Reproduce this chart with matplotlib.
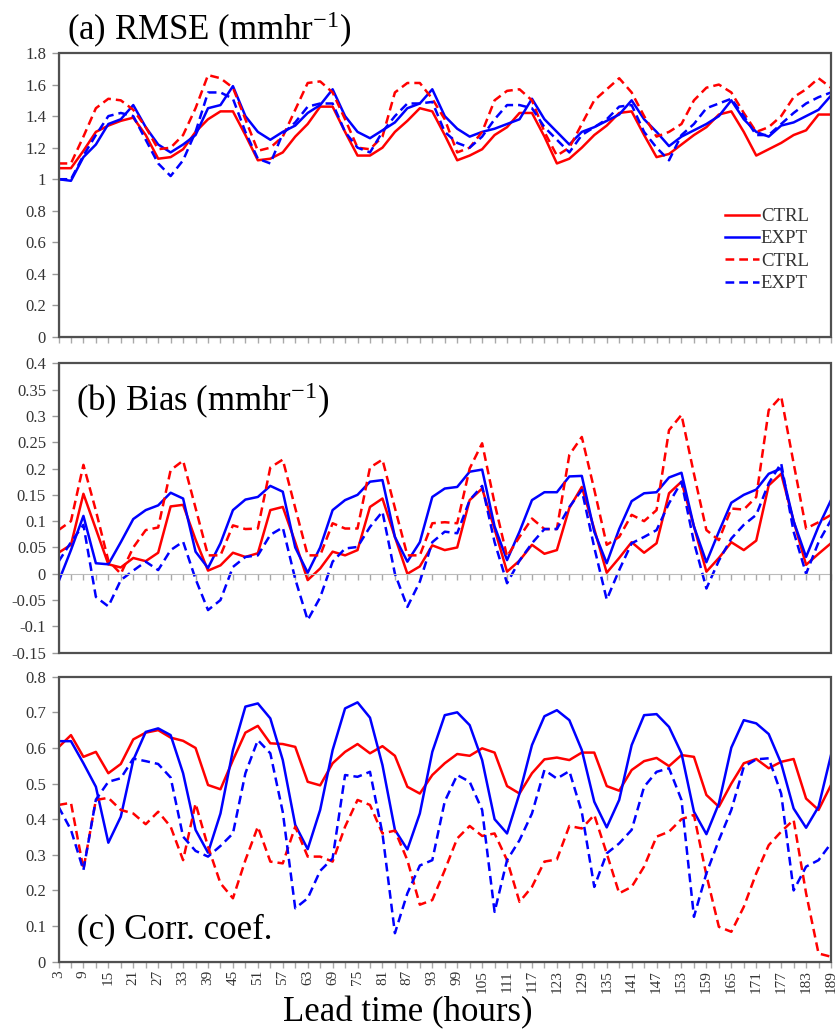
import matplotlib
matplotlib.use('Agg')
import matplotlib.pyplot as plt
from matplotlib.patches import Rectangle

plt.rcParams['font.family'] = 'Liberation Serif'
plt.rcParams['mathtext.fontset'] = 'custom'
plt.rcParams['mathtext.rm'] = 'Liberation Serif'
plt.rcParams['mathtext.it'] = 'Liberation Serif:italic'

# lead time (hours)
hours = [3, 6, 9, 12, 15, 18, 21, 24, 27, 30, 33, 36, 39, 42, 45, 48, 51, 54, 57, 60,
         63, 66, 69, 72, 75, 78, 81, 84, 87, 90, 93, 96, 99, 102, 105, 108, 111, 114,
         117, 120, 123, 126, 129, 132, 135, 138, 141, 144, 147, 150, 153, 156, 159,
         162, 165, 168, 171, 174, 177, 180, 183, 186, 189]

# (a) RMSE
rmse_ctrl = [1.07, 1.07, 1.18, 1.30, 1.34, 1.37, 1.39, 1.28, 1.13, 1.14, 1.19, 1.30, 1.38,
             1.43, 1.43, 1.28, 1.12, 1.13, 1.17, 1.27, 1.35, 1.46, 1.46, 1.30, 1.15, 1.15,
             1.20, 1.30, 1.37, 1.45, 1.43, 1.28, 1.12, 1.15, 1.19, 1.28, 1.33, 1.42, 1.42,
             1.27, 1.10, 1.13, 1.20, 1.28, 1.34, 1.42, 1.43, 1.28, 1.14, 1.16, 1.22, 1.28,
             1.33, 1.41, 1.43, 1.30, 1.15, 1.19, 1.23, 1.28, 1.31, 1.41, 1.41]
rmse_expt = [1.00, 0.99, 1.14, 1.22, 1.35, 1.38, 1.47, 1.33, 1.22, 1.17, 1.22, 1.28, 1.45,
             1.47, 1.59, 1.40, 1.30, 1.25, 1.30, 1.34, 1.42, 1.47, 1.57, 1.40, 1.30, 1.26,
             1.31, 1.36, 1.45, 1.48, 1.57, 1.40, 1.32, 1.27, 1.30, 1.32, 1.35, 1.38, 1.51,
             1.38, 1.30, 1.22, 1.30, 1.33, 1.37, 1.41, 1.50, 1.38, 1.30, 1.21, 1.27, 1.31,
             1.35, 1.40, 1.50, 1.38, 1.30, 1.27, 1.34, 1.36, 1.40, 1.44, 1.53]
rmse_ctrl2 = [1.10, 1.10, 1.27, 1.45, 1.51, 1.50, 1.44, 1.33, 1.19, 1.20, 1.28, 1.45, 1.66,
              1.64, 1.58, 1.38, 1.18, 1.20, 1.27, 1.44, 1.61, 1.62, 1.55, 1.38, 1.20, 1.19,
              1.27, 1.55, 1.61, 1.61, 1.51, 1.38, 1.17, 1.20, 1.30, 1.50, 1.56, 1.57, 1.50,
              1.30, 1.15, 1.20, 1.35, 1.50, 1.57, 1.64, 1.55, 1.40, 1.27, 1.30, 1.35, 1.50,
              1.58, 1.60, 1.55, 1.42, 1.30, 1.33, 1.40, 1.52, 1.57, 1.64, 1.58]
rmse_expt2 = [1.00, 1.00, 1.15, 1.28, 1.40, 1.42, 1.40, 1.25, 1.10, 1.02, 1.12, 1.30, 1.55,
              1.55, 1.51, 1.30, 1.13, 1.10, 1.29, 1.36, 1.46, 1.48, 1.48, 1.30, 1.20, 1.17,
              1.30, 1.40, 1.48, 1.48, 1.49, 1.30, 1.23, 1.20, 1.27, 1.38, 1.47, 1.47, 1.45,
              1.33, 1.25, 1.17, 1.28, 1.33, 1.38, 1.46, 1.47, 1.30, 1.20, 1.12, 1.28, 1.35,
              1.45, 1.48, 1.51, 1.40, 1.28, 1.28, 1.35, 1.42, 1.48, 1.52, 1.55]

# (b) Bias
bias_ctrl = [0.040, 0.055, 0.152, 0.085, 0.018, 0.012, 0.030, 0.024, 0.040, 0.128, 0.131,
             0.065, 0.006, 0.016, 0.040, 0.032, 0.039, 0.121, 0.127, 0.060, -0.012, 0.010,
             0.042, 0.035, 0.045, 0.127, 0.143, 0.070, 0.000, 0.014, 0.054, 0.045, 0.050,
             0.140, 0.162, 0.085, 0.004, 0.025, 0.055, 0.038, 0.045, 0.125, 0.165, 0.085,
             0.002, 0.030, 0.060, 0.040, 0.058, 0.153, 0.175, 0.090, 0.004, 0.030, 0.060,
             0.045, 0.063, 0.168, 0.190, 0.100, 0.017, 0.038, 0.058]
bias_expt = [-0.015, 0.045, 0.110, 0.020, 0.018, 0.060, 0.104, 0.121, 0.130, 0.154, 0.143,
             0.042, 0.011, 0.058, 0.121, 0.141, 0.146, 0.167, 0.156, 0.050, 0.002, 0.050,
             0.121, 0.140, 0.150, 0.175, 0.178, 0.070, 0.023, 0.060, 0.146, 0.162, 0.165,
             0.194, 0.198, 0.090, 0.026, 0.080, 0.140, 0.155, 0.155, 0.185, 0.186, 0.080,
             0.020, 0.085, 0.138, 0.153, 0.155, 0.183, 0.192, 0.090, 0.022, 0.080, 0.135,
             0.150, 0.160, 0.190, 0.200, 0.100, 0.032, 0.090, 0.140]
bias_ctrl2 = [0.083, 0.100, 0.207, 0.120, 0.025, 0.000, 0.050, 0.083, 0.088, 0.197, 0.215,
              0.125, 0.035, 0.035, 0.092, 0.085, 0.086, 0.202, 0.217, 0.125, 0.035, 0.035,
              0.096, 0.086, 0.086, 0.202, 0.217, 0.125, 0.035, 0.035, 0.096, 0.098, 0.096,
              0.200, 0.248, 0.134, 0.033, 0.070, 0.105, 0.085, 0.085, 0.226, 0.260, 0.160,
              0.055, 0.070, 0.112, 0.100, 0.121, 0.273, 0.302, 0.190, 0.083, 0.064, 0.124,
              0.122, 0.146, 0.311, 0.337, 0.210, 0.086, 0.098, 0.112]
bias_expt2 = [0.023, 0.060, 0.093, -0.044, -0.062, -0.012, 0.006, 0.023, 0.007, 0.045, 0.061,
              -0.010, -0.069, -0.050, 0.013, 0.032, 0.035, 0.074, 0.088, -0.010, -0.088,
              -0.045, 0.023, 0.048, 0.051, 0.089, 0.118, 0.000, -0.063, -0.015, 0.060, 0.080,
              0.077, 0.140, 0.167, 0.060, -0.018, 0.025, 0.058, 0.085, 0.085, 0.127, 0.159,
              0.050, -0.049, 0.007, 0.058, 0.070, 0.083, 0.134, 0.175, 0.060, -0.028, 0.025,
              0.067, 0.093, 0.112, 0.172, 0.210, 0.080, 0.000, 0.060, 0.102]

# (c) Corr. coef.
corr_ctrl = [0.602, 0.636, 0.575, 0.589, 0.529, 0.555, 0.624, 0.643, 0.650, 0.629, 0.620,
             0.600, 0.496, 0.484, 0.566, 0.643, 0.662, 0.613, 0.611, 0.603, 0.505, 0.495,
             0.557, 0.589, 0.611, 0.585, 0.605, 0.578, 0.491, 0.472, 0.524, 0.557, 0.583,
             0.578, 0.599, 0.587, 0.493, 0.472, 0.529, 0.568, 0.573, 0.566, 0.587, 0.587,
             0.493, 0.480, 0.538, 0.563, 0.572, 0.549, 0.580, 0.575, 0.468, 0.435, 0.500,
             0.557, 0.569, 0.543, 0.561, 0.569, 0.458, 0.426, 0.496]
corr_expt = [0.619, 0.619, 0.557, 0.491, 0.334, 0.407, 0.566, 0.645, 0.655, 0.636, 0.529,
             0.370, 0.306, 0.416, 0.594, 0.716, 0.725, 0.683, 0.566, 0.384, 0.316, 0.426,
             0.594, 0.711, 0.728, 0.685, 0.552, 0.370, 0.315, 0.416, 0.589, 0.692, 0.700,
             0.664, 0.566, 0.400, 0.360, 0.472, 0.608, 0.689, 0.706, 0.678, 0.594, 0.449,
             0.377, 0.454, 0.608, 0.692, 0.695, 0.659, 0.585, 0.421, 0.358, 0.444, 0.601,
             0.678, 0.669, 0.639, 0.557, 0.430, 0.376, 0.435, 0.580]
corr_ctrl2 = [0.440, 0.446, 0.260, 0.454, 0.460, 0.426, 0.416, 0.386, 0.421, 0.379, 0.285,
              0.444, 0.323, 0.220, 0.178, 0.285, 0.379, 0.281, 0.276, 0.379, 0.295, 0.295,
              0.281, 0.379, 0.454, 0.440, 0.360, 0.368, 0.285, 0.160, 0.173, 0.257, 0.346,
              0.381, 0.353, 0.360, 0.285, 0.168, 0.210, 0.281, 0.287, 0.381, 0.374, 0.412,
              0.304, 0.192, 0.210, 0.267, 0.351, 0.365, 0.400, 0.412, 0.243, 0.098, 0.084,
              0.154, 0.248, 0.327, 0.365, 0.398, 0.192, 0.023, 0.014]
corr_expt2 = [0.435, 0.370, 0.257, 0.455, 0.505, 0.515, 0.570, 0.563, 0.555, 0.517, 0.351,
              0.311, 0.295, 0.325, 0.360, 0.529, 0.622, 0.585, 0.420, 0.150, 0.178, 0.255,
              0.290, 0.524, 0.519, 0.533, 0.360, 0.080, 0.192, 0.270, 0.285, 0.450, 0.524,
              0.505, 0.426, 0.140, 0.285, 0.341, 0.416, 0.538, 0.514, 0.535, 0.420, 0.210,
              0.304, 0.332, 0.370, 0.491, 0.533, 0.543, 0.454, 0.126, 0.248, 0.341, 0.426,
              0.547, 0.568, 0.571, 0.472, 0.200, 0.267, 0.285, 0.332]

RED = '#ff0000'
BLUE = '#0000ff'
DASH = (0, (3.5, 2))
W, H = 836, 1031


def px(l, t, r, b):
    return [l / W, 1 - b / H, (r - l) / W, (b - t) / H]


def style(ax, ylim, yticks, xlabels=False):
    ax.set_xlim(3, 189)
    ax.set_ylim(*ylim)
    ax.set_yticks(yticks)
    ax.set_yticklabels([f'{round(v, 2):g}' for v in yticks])
    ax.set_xticks(hours)
    if xlabels:
        ax.set_xticklabels([str(h) if (h - 3) % 6 == 0 else '' for h in hours], rotation=90)
    else:
        ax.tick_params(axis='x', labelbottom=False)
    for s in ['top', 'right']:
        ax.spines[s].set_visible(False)
    ax.spines['left'].set_color('#555555')
    ax.spines['bottom'].set_color('#555555')
    ax.add_patch(Rectangle((0, 0), 1, 1, transform=ax.transAxes, fill=False,
                           ec='#505050', lw=1.6, zorder=5, clip_on=False))
    ax.tick_params(axis='y', direction='out', length=5, width=1, color='#999999',
                   labelsize=12, labelcolor='#333333', pad=4)
    ax.tick_params(axis='x', direction='out', length=4, width=1, color='#aaaaaa',
                   labelsize=11, labelcolor='#333333', pad=2)


def draw(ax, ctrl, expt, ctrl2, expt2):
    ax.plot(hours, ctrl, color=RED, lw=1.8, label='CTRL')
    ax.plot(hours, expt, color=BLUE, lw=1.8, label='EXPT')
    ax.plot(hours, ctrl2, color=RED, lw=1.8, ls=DASH, label='CTRL')
    ax.plot(hours, expt2, color=BLUE, lw=1.8, ls=DASH, label='EXPT')


fig = plt.figure(figsize=(8.36, 10.31), dpi=100)

ax_a = fig.add_axes(px(58.5, 53, 831, 337))
ax_b = fig.add_axes(px(58.5, 363.3, 831, 652.7))
ax_c = fig.add_axes(px(58.5, 676.7, 831, 961.7))

draw(ax_a, rmse_ctrl, rmse_expt, rmse_ctrl2, rmse_expt2)
style(ax_a, (0, 1.8), [0, 0.2, 0.4, 0.6, 0.8, 1.0, 1.2, 1.4, 1.6, 1.8])
leg = ax_a.legend(loc='center left', bbox_to_anchor=(0.863, 0.306), frameon=False,
                  fontsize=13.5, handlelength=1.8, handletextpad=0.1, labelspacing=0.28,
                  borderpad=0, borderaxespad=0)
for t in leg.get_texts():
    t.set_color('#333333')

draw(ax_b, bias_ctrl, bias_expt, bias_ctrl2, bias_expt2)
style(ax_b, (-0.15, 0.4), [-0.15, -0.1, -0.05, 0, 0.05, 0.1, 0.15, 0.2, 0.25, 0.3, 0.35, 0.4])
ax_b.spines['bottom'].set_position(('data', 0))
ax_b.spines['bottom'].set_color('#bbbbbb')

draw(ax_c, corr_ctrl, corr_expt, corr_ctrl2, corr_expt2)
style(ax_c, (0, 0.8), [0, 0.1, 0.2, 0.3, 0.4, 0.5, 0.6, 0.7, 0.8], xlabels=True)

fig.text(67 / W, 1 - 40 / H, r'(a) RMSE (mmhr$^{\mathrm{-1}}$)', fontsize=25, va='baseline')
fig.text(76 / W, 1 - 411.7 / H, r'(b) Bias (mmhr$^{\mathrm{-1}}$)', fontsize=25, va='baseline')
fig.text(77 / W, 1 - 938 / H, '(c) Corr. coef.', fontsize=25, va='baseline')
fig.text(408 / W, 1 - 1021 / H, 'Lead time (hours)', fontsize=25, va='baseline', ha='center')

fig.savefig('out.png', dpi=100)
